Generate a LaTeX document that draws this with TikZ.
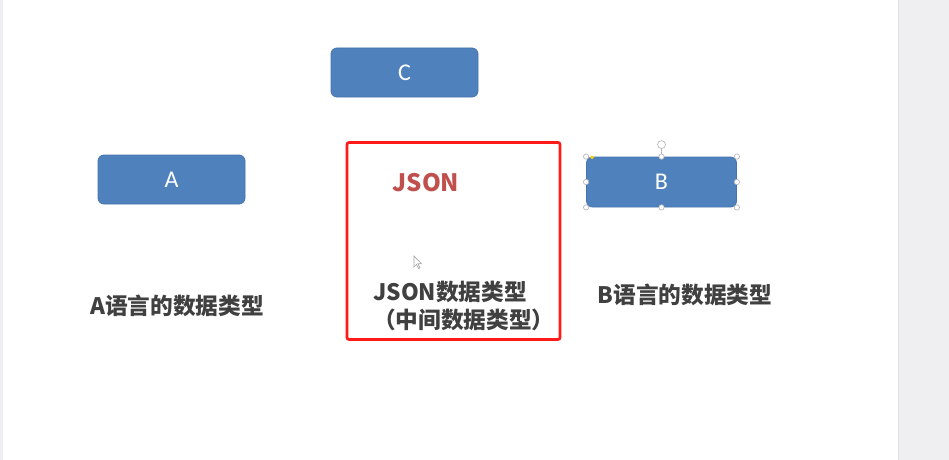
\documentclass[tikz,border=0pt]{standalone}
\usepackage{fontspec}
\usetikzlibrary{shapes.geometric}
\setmainfont{Carlito}
\newfontfamily\cjk{Noto Sans CJK SC}
\definecolor{boxblue}{HTML}{4F81BD}
\definecolor{boxedge}{HTML}{4674AE}
\definecolor{jsonred}{HTML}{C0504D}
\definecolor{framered}{HTML}{FF1A1A}
\definecolor{labelgray}{HTML}{404040}
\definecolor{stripgray}{HTML}{EFEFF2}
\definecolor{stripline}{HTML}{E0E0E4}
\definecolor{handlegray}{HTML}{B8B8BC}
\tikzset{
  bluebox/.style={draw=boxedge, fill=boxblue, line width=0.6pt, rounded corners=4.5pt,
    minimum width=110.25pt, minimum height=36.75pt, inner sep=0pt,
    text=white, font=\fontsize{18}{20}\selectfont},
  cjklabel/.style={text=labelgray, font=\cjk\bfseries\fontsize{17}{21}\selectfont, inner sep=0pt},
  handle/.style={draw=handlegray, fill=white, line width=0.5pt},
}
\begin{document}
\begin{tikzpicture}[x=0.75pt,y=-0.75pt]
\useasboundingbox (0,0) rectangle (949,460);
\fill[white] (0,0) rectangle (949,460);
\fill[stripgray] (0,0) rectangle (3,460);
\fill[stripgray] (898,0) rectangle (949,460);
\draw[stripline, line width=1pt] (898.5,0) -- (898.5,460);

% blue boxes
\node[bluebox] (C) at (404.5,72.5) {C};
\node[bluebox] (A) at (171.5,179.5) {A};
\node[bluebox, minimum width=112.5pt, minimum height=37.5pt] (B) at (661.5,182) {B};

% selection handles on B
\draw[handlegray, line width=0.5pt] (B.north) -- ++(0,-8) coordinate (rot);
\node[handle, circle, minimum size=6pt, inner sep=0pt] (roth) at ([yshift=3pt]rot) {};
\foreach \a in {north west,north,north east,east,south east,south,south west,west}{
  \node[handle, circle, minimum size=4pt, inner sep=0pt] at (B.\a) {};
}
\node[fill=yellow!70!orange, diamond, inner sep=0pt, minimum size=3pt] (yd) at ([xshift=4.5pt,yshift=-0.5pt]B.north west) {};

% red frame
\node[draw=framered, line width=2pt, rounded corners=1.5pt,
  minimum width=159.75pt, minimum height=147.75pt, inner sep=0pt] (frame) at (453.5,241) {};

\node[text=jsonred, font=\cjk\bfseries\fontsize{18}{20}\selectfont, inner sep=0pt] (json) at (426,183) {JSON};

% labels
\node[cjklabel] (la) at (177,306) {A语言的数据类型};
\node[cjklabel, align=left, anchor=west] (lj) at (373,306) {JSON数据类型\\（中间数据类型）};
\node[cjklabel] (lb) at (685,295) {B语言的数据类型};

% mouse cursor
\draw[gray!70, fill=white, line width=0.5pt] (414,256) coordinate (cur) -- ++(0,11) -- ++(2.5,-2.5) -- ++(2,4) -- ++(1.5,-0.7) -- ++(-2,-4) -- ++(3.5,0) -- cycle;
\end{tikzpicture}
\end{document}
